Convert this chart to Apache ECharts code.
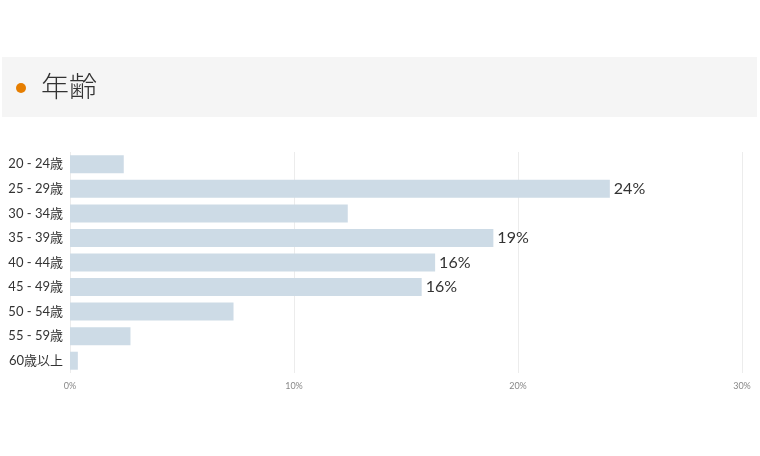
<!DOCTYPE html>
<html>
<head>
<meta charset="utf-8">
<script src="https://cdn.jsdelivr.net/npm/echarts@6/dist/echarts.min.js"></script>
<style>html,body{margin:0;padding:0;background:#fff;}#c{width:760px;height:456px;}</style>
</head>
<body>
<div id="c"></div>
<script>
var titleText = '年齢';
var categories = ['20 - 24歳','25 - 29歳','30 - 34歳','35 - 39歳','40 - 44歳','45 - 49歳','50 - 54歳','55 - 59歳','60歳以上'];
var values = [2.4, 24.1, 12.4, 18.9, 16.3, 15.7, 7.3, 2.7, 0.35];
var labelled = [false, true, false, true, true, true, false, false, false];
var xTicks = [0, 10, 20, 30];

var chart = echarts.init(document.getElementById('c'), null, {renderer:'canvas'});
var cjk = '"Noto Sans CJK JP", "Noto Sans", sans-serif';
var font = 'Lato, "Noto Sans CJK JP", sans-serif';
chart.setOption({
  animation:false,
  graphic:[
    {type:'rect', shape:{x:2, y:57, width:755, height:60}, style:{fill:'#f5f5f5'}, silent:true},
    {type:'circle', shape:{cx:21, cy:88, r:5}, style:{fill:'#e67e00'}},
    {type:'text', left:41, top:72, style:{text:titleText, font:'300 28px ' + cjk, fill:'#333'}}
  ],
  grid:{left:70, right:18, top:152, bottom:83, containLabel:false},
  xAxis:{
    type:'value', min:xTicks[0], max:xTicks[xTicks.length-1], interval:10,
    axisLine:{show:false}, axisTick:{show:false},
    splitLine:{show:true, lineStyle:{color:'#ececec', width:1}},
    axisLabel:{formatter:'{value}%', color:'#888', fontSize:9, fontFamily:font, margin:9}
  },
  yAxis:{
    type:'category', data:categories, inverse:true,
    axisLine:{show:false}, axisTick:{show:false},
    axisLabel:{color:'#333', fontSize:13, fontFamily:font, margin:7}
  },
  series:[{
    type:'bar', barWidth:18,
    itemStyle:{color:'#cddbe6'},
    data: values.map(function(v,i){
      return {value:v, label:{show:labelled[i]}};
    }),
    label:{position:'right', distance:4, color:'#333', fontSize:16, fontFamily:font,
      formatter:function(p){return Math.round(p.value)+'%';}}
  }]
});
</script>
</body>
</html>
